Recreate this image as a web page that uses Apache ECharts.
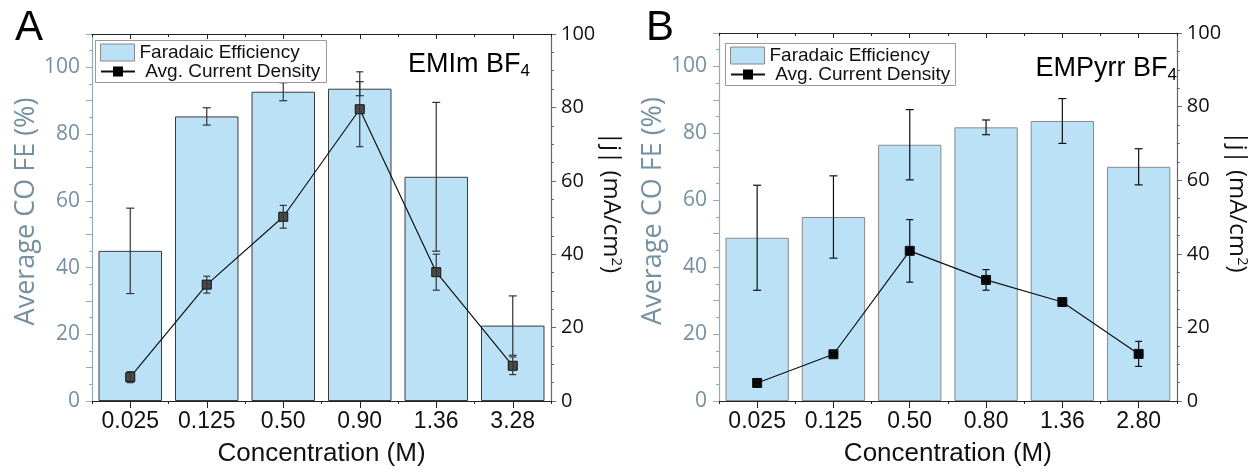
<!DOCTYPE html>
<html><head><meta charset="utf-8">
<script src="https://cdn.jsdelivr.net/npm/echarts@6/dist/echarts.min.js"></script>
<style>html,body{margin:0;padding:0;background:#fff}#c{width:1251px;height:472px}</style>
</head><body><div id="c"></div>
<script>
// Panel A: EMIm BF4
const catsA = ['0.025', '0.125', '0.50', '0.90', '1.36', '3.28'];
const feA = [45.0, 85.3, 92.7, 93.6, 67.2, 22.6];
const feErrA = [12.8, 2.6, 2.7, 2.1, 22.3, 8.9];
const cdA = [6.5, 31.7, 50.2, 79.5, 35.1, 9.6];
const cdErrA = [1.5, 2.3, 3.1, 10.2, 4.9, 2.4];
// Panel B: EMPyrr BF4
const catsB = ['0.025', '0.125', '0.50', '0.80', '1.36', '2.80'];
const feB = [48.8, 55.0, 76.6, 81.8, 83.7, 70.0];
const feErrB = [15.7, 12.3, 10.5, 2.2, 6.7, 5.4];
const cdB = [4.9, 12.7, 40.8, 32.9, 26.9, 12.8];
const cdErrB = [0.6, 1.0, 8.5, 2.8, 0.4, 3.4];
// Axis ticks
const feTicks = [0, 20, 40, 60, 80, 100];
const cdTicks = [0, 20, 40, 60, 80, 100];

const FE_NAME = 'Faradaic Efficiency';
const CD_NAME = ' Avg. Current Density';
const SANS = 'Liberation Sans';
const OPEN = 'Open Sans';
const LEFT_COL = '#7590a0';
const LEFT_LINE = '#93aab7';

function errBar(cap, color, lw) {
  return function (params, api) {
    const x = api.value(0), y = api.value(1), e = api.value(2);
    const hi = api.coord([x, y + e]), lo = api.coord([x, y - e]);
    const st = { stroke: color, lineWidth: lw };
    return { type: 'group', children: [
      { type: 'line', shape: { x1: hi[0], y1: hi[1], x2: lo[0], y2: lo[1] }, style: st },
      { type: 'line', shape: { x1: hi[0] - cap, y1: hi[1], x2: hi[0] + cap, y2: hi[1] }, style: st },
      { type: 'line', shape: { x1: lo[0] - cap, y1: lo[1], x2: lo[0] + cap, y2: lo[1] }, style: st }
    ] };
  };
}

const grids = [
  { left: 92, right: 700, top: 34, bottom: 68 },
  { left: 719, right: 70, top: 33, bottom: 67 }
];
const xAxes = [], yAxes = [], series = [];

function panel(k, cats, fe, feErr, cd, cdErr, st) {
  const xb = { type: 'category', gridIndex: k, data: cats, boundaryGap: true };
  const xi = xAxes.length;
  xAxes.push(Object.assign({}, xb, {
    position: 'bottom',
    axisLine: { show: true, lineStyle: { color: '#222', width: 1.2 } },
    axisTick: { show: true, alignWithLabel: true, length: 7, inside: false, lineStyle: { color: '#222' } },
    axisLabel: { fontFamily: SANS, fontSize: 23, color: '#111', margin: 9 },
    name: 'Concentration (M)', nameLocation: 'middle', nameGap: 40,
    nameTextStyle: { fontFamily: SANS, fontSize: 26, color: '#111' }
  }));
  xAxes.push(Object.assign({}, xb, {
    position: 'bottom', axisLine: { show: false },
    axisTick: { show: true, alignWithLabel: false, length: 3, lineStyle: { color: '#222' } },
    axisLabel: { show: false }
  }));
  xAxes.push(Object.assign({}, xb, {
    position: 'top',
    axisLine: { show: true, lineStyle: { color: '#222', width: 1.2 } },
    axisTick: { show: true, alignWithLabel: true, inside: true, length: 5, lineStyle: { color: '#222' } },
    axisLabel: { show: false }
  }));
  xAxes.push(Object.assign({}, xb, {
    position: 'top', axisLine: { show: false },
    axisTick: { show: true, alignWithLabel: false, inside: true, length: 3, lineStyle: { color: '#222' } },
    axisLabel: { show: false }
  }));
  const yl = yAxes.length;
  yAxes.push({
    type: 'value', gridIndex: k, position: 'left', min: 0, max: 110, interval: 10,
    splitLine: { show: false },
    axisLine: { show: true, lineStyle: { color: LEFT_LINE, width: 1.2 } },
    axisTick: { show: true, length: 6, lineStyle: { color: LEFT_LINE } },
    minorTick: { show: true, splitNumber: 2, length: 3, lineStyle: { color: LEFT_LINE } },
    axisLabel: { fontFamily: OPEN, fontSize: 21, color: LEFT_COL, margin: 12,
      formatter: v => feTicks.indexOf(v) >= 0 ? String(v) : '' },
    name: 'Average CO FE (%)', nameLocation: 'middle', nameGap: 48,
    nameTextStyle: { fontFamily: OPEN, fontSize: 27, color: LEFT_COL, padding: [0, 0, 0, 12] }
  });
  yAxes.push({
    type: 'value', gridIndex: k, position: 'right', min: 0, max: 100, interval: 20,
    splitLine: { show: false },
    axisLine: { show: true, lineStyle: { color: '#666', width: 1.2 } },
    axisTick: { show: true, length: 5, lineStyle: { color: '#666' } },
    minorTick: { show: true, splitNumber: 4, length: 3, lineStyle: { color: '#666' } },
    axisLabel: { fontFamily: OPEN, fontSize: 20, color: '#111', margin: 10,
      formatter: v => cdTicks.indexOf(v) >= 0 ? String(v) : '' },
    name: '|j| (mA/cm{sup|2})', nameLocation: 'middle', nameGap: 39, nameRotate: -90,
    nameTextStyle: { fontFamily: OPEN, fontSize: 24, color: '#111', padding: [0, 30, 0, 0],
      rich: { sup: { fontFamily: OPEN, fontSize: 15, color: '#111', padding: [0, 0, 11, 0] } } }
  });
  series.push({
    name: FE_NAME, type: 'bar', xAxisIndex: xi, yAxisIndex: yl, data: fe,
    barCategoryGap: '17%', z: 2,
    itemStyle: { color: '#bbe1f6', borderColor: st.barBorder, borderWidth: 1 }
  });
  series.push({
    type: 'custom', xAxisIndex: xi, yAxisIndex: yl, z: 3,
    renderItem: errBar(4, st.errCol, 1.2), encode: { x: 0, y: 1 },
    data: fe.map((v, i) => [i, v, feErr[i]])
  });
  series.push({
    name: CD_NAME, type: 'line', xAxisIndex: xi, yAxisIndex: yl + 1, data: cd, z: 4,
    symbol: 'rect', symbolSize: 9,
    lineStyle: { color: '#111', width: 1.2 },
    itemStyle: { color: st.markCol, borderColor: '#111', borderWidth: 1 }
  });
  series.push({
    type: 'custom', xAxisIndex: xi, yAxisIndex: yl + 1, z: 5,
    renderItem: errBar(3.5, st.errCol, 1.2), encode: { x: 0, y: 1 },
    data: cd.map((v, i) => [i, v, cdErr[i]])
  });
}

panel(0, catsA, feA, feErrA, cdA, cdErrA, { barBorder: '#3c3c3c', errCol: '#333', markCol: '#4a4a4a' });
panel(1, catsB, feB, feErrB, cdB, cdErrB, { barBorder: '#8a8a8a', errCol: '#111', markCol: '#000' });

const legText = { fontFamily: SANS, fontSize: 19, color: '#111' };
function legFE(left, top) {
  return { orient: 'vertical', selectedMode: false, left: left, top: top, padding: 0,
    itemWidth: 34, itemHeight: 17, textStyle: legText,
    data: [{ name: FE_NAME, icon: 'rect', itemStyle: { color: '#bbe1f6', borderColor: '#888', borderWidth: 1 } }] };
}
function legCD(left, top) {
  return { orient: 'vertical', selectedMode: false, left: left, top: top, padding: 0,
    itemWidth: 34, itemHeight: 10, textStyle: legText,
    data: [{ name: CD_NAME, itemStyle: { color: '#000', borderColor: '#000' } }] };
}

const option = {
  animation: false,
  backgroundColor: '#fff',
  grid: grids,
  xAxis: xAxes,
  yAxis: yAxes,
  series: series,
  legend: [legFE(100, 43), legCD(100, 62), legFE(730, 46), legCD(730, 65)],
  graphic: [
    { type: 'rect', shape: { x: 95.5, y: 40.5, width: 231, height: 42 }, style: { fill: 'rgba(0,0,0,0)', stroke: '#999', lineWidth: 1 }, z: 10 },
    { type: 'rect', shape: { x: 725.5, y: 43.5, width: 230, height: 42 }, style: { fill: 'rgba(0,0,0,0)', stroke: '#999', lineWidth: 1 }, z: 10 }
  ],
  title: [
    { text: 'A', left: 15, top: 7, padding: 0, textStyle: { fontFamily: SANS, fontSize: 42, fontWeight: 'normal', color: '#000' } },
    { text: 'B', left: 646, top: 7, padding: 0, textStyle: { fontFamily: SANS, fontSize: 42, fontWeight: 'normal', color: '#000' } },
    { text: 'EMIm BF{sub|4}', right: 721, top: 49, padding: 0,
      textStyle: { fontFamily: SANS, fontSize: 27, fontWeight: 'normal', color: '#000',
        rich: { sub: { fontFamily: SANS, fontSize: 17, color: '#000', padding: [14, 0, 0, 0] } } } },
    { text: 'EMPyrr BF{sub|4}', right: 74, top: 53, padding: 0,
      textStyle: { fontFamily: SANS, fontSize: 27, fontWeight: 'normal', color: '#000',
        rich: { sub: { fontFamily: SANS, fontSize: 17, color: '#000', padding: [14, 0, 0, 0] } } } }
  ]
};

const chart = echarts.init(document.getElementById('c'), null, { renderer: 'canvas' });
chart.setOption(option);
</script>
</body></html>
